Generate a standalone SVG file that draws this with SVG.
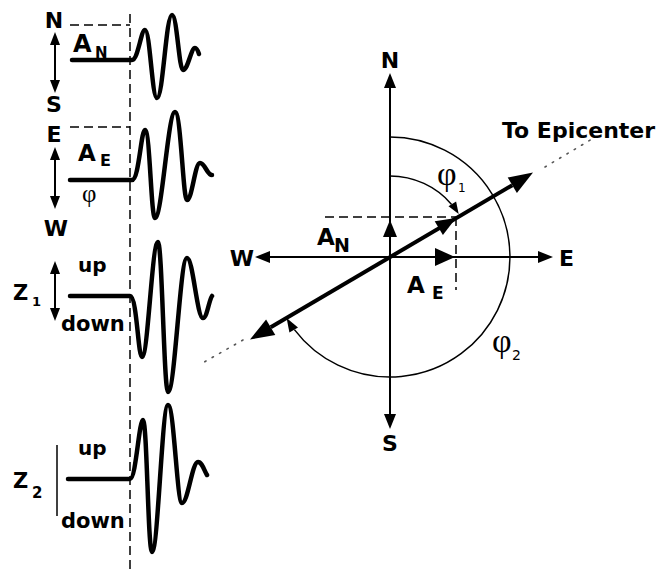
<svg xmlns="http://www.w3.org/2000/svg" width="662" height="570" viewBox="0 0 662 570">
<style>
.lbl{font-family:"DejaVu Sans",Verdana,sans-serif;font-weight:bold;fill:#000}
.phi{font-family:"Liberation Serif","Times New Roman",serif;fill:#000}
.sub{font-family:"DejaVu Sans",sans-serif;fill:#000}
.wave{fill:none;stroke:#000;stroke-width:4.5;stroke-linejoin:round;stroke-linecap:round}
.axis{fill:none;stroke:#000;stroke-width:2}
.thin{fill:none;stroke:#000;stroke-width:1.5}
.dash{fill:none;stroke:#000;stroke-width:1.5;stroke-dasharray:9 5}
.dot{fill:none;stroke:#555;stroke-width:1.6;stroke-dasharray:1.5 7;stroke-linecap:round}
.head{fill:#000;stroke:none}
</style>
<rect width="662" height="570" fill="#fff"/>

<g id="reference-line">
<path class="dash" d="M130,14 V570"/>
</g>

<g id="trace-N">
<path class="dash" d="M70,25 H130"/>
<path class="axis" d="M55,42 V83"/>
<polygon class="head" points="55,32 50,45 60,45"/>
<polygon class="head" points="55,93 50,80 60,80"/>
<text class="lbl" x="54" y="28" font-size="22" text-anchor="middle">N</text>
<text class="lbl" x="54" y="112" font-size="22" text-anchor="middle">S</text>
<text class="lbl" x="73" y="52" font-size="24">A</text>
<text class="lbl" x="95" y="58" font-size="15">N</text>
<path class="wave" d="M72,60 L132,60 C138,60 141,30 145,30 C150,30 152,98 157,98 C163,98 166,15 172,15 C177,15 179,70 183,70 C188,70 191,48 195,48 C197,48 198,51 199,54"/>
</g>

<g id="trace-E">
<path class="dash" d="M70,127 H130"/>
<path class="axis" d="M55,157 V199"/>
<polygon class="head" points="55,147 50,160 60,160"/>
<polygon class="head" points="55,209 50,196 60,196"/>
<text class="lbl" x="54" y="142" font-size="22" text-anchor="middle">E</text>
<text class="lbl" x="56" y="236" font-size="22" text-anchor="middle">W</text>
<text class="lbl" x="78" y="161" font-size="23">A</text>
<text class="lbl" x="100" y="166" font-size="16">E</text>
<text class="phi" x="82" y="202" font-size="25">φ</text>
<path class="wave" d="M70,180 L132,180 C139,180 141,130 145,130 C150,130 151,218 155,218 C162,218 168,112 175,112 C181,112 183,200 187,200 C192,200 195,163 200,163 C205,163 207,175 212,175"/>
</g>

<g id="trace-Z1">
<path class="axis" d="M55,271 V311"/>
<polygon class="head" points="55,261 50,274 60,274"/>
<polygon class="head" points="55,321 50,308 60,308"/>
<text class="lbl" x="13" y="300" font-size="21">Z</text>
<text class="lbl" x="32" y="306" font-size="13">1</text>
<text class="lbl" x="78" y="272" font-size="20">up</text>
<text class="lbl" x="61" y="331" font-size="21">down</text>
<path class="wave" d="M70,296 L130,296 C137,296 138,357 142,357 C148,357 152,242 158,242 C162,242 164,392 168,392 C175,392 180,258 187,258 C193,258 197,318 203,318 C207,318 209,300 212,296"/>
</g>

<g id="trace-Z2">
<path class="thin" d="M57,445 V516"/>
<text class="lbl" x="13" y="488" font-size="21">Z</text>
<text class="lbl" x="32" y="498" font-size="15">2</text>
<text class="lbl" x="78" y="455" font-size="20">up</text>
<text class="lbl" x="61" y="528" font-size="21">down</text>
<path class="wave" d="M68,479 L130,479 C136,479 139,420 143,420 C147,420 148,552 152,552 C158,552 162,405 168,405 C174,405 177,503 182,503 C188,503 192,462 198,462 C202,462 204,470 207,475"/>
</g>

<g id="compass-axes">
<path class="axis" d="M390,84 V418 M266,257 H542"/>
<polygon class="head" points="390,73 384,88 396,88"/>
<polygon class="head" points="390,429 384,414 396,414"/>
<polygon class="head" points="255,257 270,251 270,263"/>
<polygon class="head" points="553,257 538,251 538,263"/>
<text class="lbl" x="390" y="68" font-size="22" text-anchor="middle">N</text>
<text class="lbl" x="390" y="451" font-size="22" text-anchor="middle">S</text>
<text class="lbl" x="254" y="266" font-size="22" text-anchor="end">W</text>
<text class="lbl" x="559" y="266" font-size="22">E</text>
</g>

<g id="components">
<path class="dash" d="M325,217 H456 M456,217 V290" stroke-dasharray="11 6"/>
<polygon class="head" points="390,220 383,237 397,237"/>
<polygon class="head" points="455,257 435,248 435,266"/>
<text class="lbl" x="317" y="245" font-size="23">A</text>
<text class="lbl" x="334" y="252" font-size="19">N</text>
<text class="lbl" x="407" y="293" font-size="23">A</text>
<text class="lbl" x="432" y="299" font-size="17">E</text>
</g>

<g id="connectors">
<path class="dot" d="M545,167 L592,139"/>
<path class="dot" d="M243,340 L199,365"/>
<path fill="none" stroke="#000" stroke-width="4" d="M270.7,327.3 L512.3,185.2"/>
<polygon class="head" points="533,172.5 516.9,192.9 507.7,177.5"/>
<polygon class="head" points="456,218 442.9,235.1 434.7,221.3"/>
<polygon class="head" points="250,339.5 275.3,335 266.1,319.6"/>
<path class="thin" d="M390,137 A120,120 0 1 1 294.4,329.6"/>
<polygon class="head" points="286.6,317.9 298,327.5 289.4,332.5"/>
<path class="thin" d="M390,176 A81,81 0 0 1 451.6,204.4"/>
<polygon class="head" points="458.7,214.1 456.1,201.5 448.5,206.3"/>
</g>

<g id="labels">
<text class="lbl" x="502" y="138" font-size="22">To Epicenter</text>
<text class="phi" x="437" y="185" font-size="34">φ</text>
<text class="sub" x="458" y="192" font-size="12">1</text>
<text class="phi" x="492" y="352" font-size="34">φ</text>
<text class="sub" x="512" y="360" font-size="14">2</text>
</g>
</svg>
